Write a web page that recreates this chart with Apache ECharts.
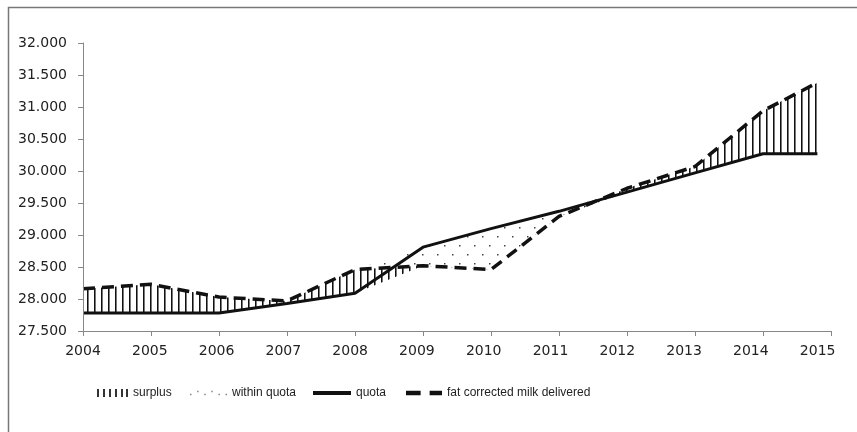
<!DOCTYPE html>
<html>
<head>
<meta charset="utf-8">
<script src="https://cdn.jsdelivr.net/npm/echarts@6/dist/echarts.min.js"></script>
<style>
  html, body { margin: 0; padding: 0; background: #fff; }
  #chart { width: 857px; height: 432px; }
</style>
</head>
<body>
<div id="chart"></div>
<script>
// milk years, last point is the end of the 2014 period
const years = [2004, 2005, 2006, 2007, 2008, 2009, 2010, 2011, 2012, 2013, 2014, 2014.8];
// quota and fat corrected milk delivered (x1000)
const quota = [27780, 27780, 27780, 27930, 28090, 28810, 29100, 29370, 29670, 29970, 30270, 30270];
const delivered = [28160, 28230, 28030, 27970, 28460, 28520, 28460, 29290, 29730, 30070, 30940, 31380];
const yTicks = { min: 27500, max: 32000, step: 500 };
const xTicks = { min: 2004, max: 2015, step: 1 };

const pairs = (vals) => years.map((y, i) => [y, vals[i]]);
const lower = quota.map((q, i) => Math.min(q, delivered[i]));
const upper = quota.map((q, i) => Math.max(q, delivered[i]));

// fill patterns
function hatchPattern() {
  const c = document.createElement('canvas');
  c.width = 7; c.height = 8;
  const ctx = c.getContext('2d');
  ctx.fillStyle = '#fff';
  ctx.fillRect(0, 0, 7, 8);
  ctx.fillStyle = '#111';
  ctx.fillRect(3, 0, 1, 8);
  ctx.fillStyle = '#777';
  ctx.fillRect(4, 0, 1, 8);
  return c;
}
function dotPattern() {
  const c = document.createElement('canvas');
  c.width = 15; c.height = 18;
  const ctx = c.getContext('2d');
  ctx.fillStyle = '#444';
  ctx.fillRect(2, 2, 1.5, 1.5);
  ctx.fillRect(9, 11, 1.5, 1.5);
  return c;
}

const legendText = { fontFamily: 'Liberation Sans', fontSize: 12, color: '#222' };
function legendItem(name, left, width, icon, color) {
  return {
    data: [name], left: left, top: 387, padding: 0,
    itemWidth: width, itemHeight: 10, icon: icon,
    itemStyle: { color: color, borderWidth: 0 },
    textStyle: legendText, selectedMode: false
  };
}

const chart = echarts.init(document.getElementById('chart'));
const option = {
  animation: false,
  backgroundColor: '#fff',
  graphic: [{
    type: 'rect', left: 6, top: 5, z: 100, silent: true,
    shape: { width: 900, height: 500 },
    style: { fill: 'none', stroke: '#777', lineWidth: 1.5 }
  }],
  grid: { left: 83, right: 26, top: 43, bottom: 101 },
  legend: [
    legendItem('surplus', 97, 31,
      'path://M0,0h2v8h-2z M6,0h2v8h-2z M12,0h2v8h-2z M18,0h2v8h-2z M24,0h2v8h-2z M29,0h2v8h-2z', '#333'),
    legendItem('within quota', 190, 37,
      'path://M0,4h1.5v1.5h-1.5z M7,1h1.5v1.5h-1.5z M14,4h1.5v1.5h-1.5z M21,1h1.5v1.5h-1.5z M28,4h1.5v1.5h-1.5z M35,4h1.5v1.5h-1.5z', '#888'),
    legendItem('quota', 313, 38, 'path://M0,0h38v4h-38z', '#111'),
    legendItem('fat corrected milk delivered', 406, 36,
      'path://M0,0h13v4h-13z M21,0h11v4h-11z', '#111')
  ],
  xAxis: [{
    type: 'value', min: xTicks.min, max: xTicks.max, interval: xTicks.step, z: 10,
    axisLine: { lineStyle: { color: '#888', width: 1 } },
    axisTick: { show: true, length: 5, lineStyle: { color: '#888' } },
    axisLabel: { show: false },
    splitLine: { show: false }
  }, {
    // label row (labels sit slightly left of the ticks in the original)
    type: 'value', position: 'bottom', min: xTicks.min, max: 2015.2, interval: xTicks.step,
    axisLine: { show: false }, axisTick: { show: false }, splitLine: { show: false },
    axisLabel: {
      margin: 13, fontFamily: 'DejaVu Sans', fontSize: 14, color: '#222',
      formatter: v => Number.isInteger(v) ? String(v) : ''
    }
  }],
  yAxis: {
    type: 'value', min: yTicks.min, max: yTicks.max, interval: yTicks.step, z: 10,
    axisLine: { show: true, lineStyle: { color: '#888', width: 1 } },
    axisTick: { show: true, length: 5, lineStyle: { color: '#888' } },
    splitLine: { show: false },
    axisLabel: {
      margin: 16, fontFamily: 'DejaVu Sans', fontSize: 14, color: '#222',
      formatter: v => (v / 1000).toFixed(3)
    }
  },
  series: [
    {
      name: 'within quota', type: 'line', data: pairs(upper), symbol: 'none', z: 1,
      lineStyle: { width: 0 },
      areaStyle: { origin: 'start', opacity: 1, color: { image: dotPattern(), repeat: 'repeat' } }
    },
    {
      name: 'surplus', type: 'line', data: pairs(delivered), symbol: 'none', z: 2,
      lineStyle: { width: 0 },
      areaStyle: { origin: 'start', opacity: 1, color: { image: hatchPattern(), repeat: 'repeat' } }
    },
    {
      name: 'base', type: 'line', data: pairs(lower), symbol: 'none', z: 3,
      lineStyle: { width: 0 },
      areaStyle: { origin: 'start', opacity: 1, color: '#fff' }
    },
    {
      name: 'quota', type: 'line', data: pairs(quota), symbol: 'none', z: 4,
      lineStyle: { color: '#111', width: 3 }
    },
    {
      name: 'fat corrected milk delivered', type: 'line', data: pairs(delivered), symbol: 'none', z: 5,
      lineStyle: { color: '#111', width: 3.5, type: [12, 7] }
    }
  ]
};
chart.setOption(option);
</script>
</body>
</html>
